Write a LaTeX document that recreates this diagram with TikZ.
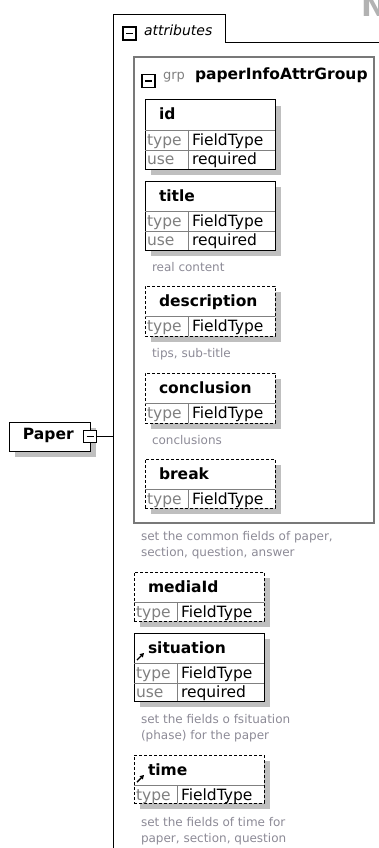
\documentclass[tikz,border=0pt]{standalone}
\usepackage{fontspec}
\setmainfont{DejaVu Sans}[ItalicFont={DejaVu Sans Oblique}, BoldFont={DejaVu Sans Bold}]
\usetikzlibrary{shadows,arrows.meta}

\definecolor{notegray}{RGB}{140,138,150}
\definecolor{keygray}{RGB}{128,128,128}
\definecolor{grpline}{RGB}{120,120,120}

\begin{document}
\begin{tikzpicture}[
    x=1pt, y=-1pt,
    every node/.style={inner sep=0pt, outer sep=0pt},
    elbox/.style={draw, line width=1pt, fill=white, anchor=north west,
                  minimum width=130pt,
                  drop shadow={shadow xshift=6pt, shadow yshift=-6pt,
                               fill=black!25, opacity=1}},
    opt/.style={dash pattern=on 3pt off 2pt},
    eltitle/.style={anchor=base west, font=\bfseries\fontsize{15.5}{18}\selectfont},
    key/.style={anchor=base west, text=keygray, font=\fontsize{15.5}{18}\selectfont},
    val/.style={anchor=base west, font=\fontsize{15.5}{18}\selectfont},
    sep/.style={draw=keygray, line width=0.8pt},
    note/.style={anchor=north west, align=left, text=notegray,
                 font=\fontsize{12}{16}\selectfont},
    minus/.style={draw, fill=white, line width=1.4pt,
                  minimum width=13pt, minimum height=13pt,
                  path picture={\draw[line width=1.2pt]
                    ([xshift=3pt]path picture bounding box.west) --
                    ([xshift=-3pt]path picture bounding box.east);}},
    refarrow/.style={-{Triangle[length=4pt,width=4.5pt]}, line width=1.4pt},
  ]
  \useasboundingbox (0,0) rectangle (379,848);

  \node[anchor=base west, text=black!30, font=\bfseries\fontsize{30}{30}\selectfont] (wm) at (361,17) {N};

  % attributes container
  \node[anchor=north west, minimum width=112pt, minimum height=28pt] (attr) at (113,15) {};
  \coordinate (attr-bot) at (113,870);
  \coordinate (attr-rgt) at (400,43);
  \draw[line width=1pt] (attr-bot) -- (attr.north west) -- (attr.north east)
    -- (attr.south east) -- (attr-rgt);
  \node[minus] (attr-m) at ([shift={(16.5,18.5)}]attr.north west) {};
  \node[anchor=base west, font=\itshape\fontsize{14}{17}\selectfont] (attr-t)
    at ([shift={(31,21)}]attr.north west) {attributes};

  % attribute group
  \node[draw=grpline, line width=1.2pt, anchor=north west,
        minimum width=240pt, minimum height=466pt] (grp) at (134,57) {};
  \node[minus] (grp-m) at ([shift={(14.5,24)}]grp.north west) {};
  \node[anchor=base west, text=keygray, font=\fontsize{13}{16}\selectfont] (grp-k)
    at ([shift={(29,23)}]grp.north west) {grp};
  \node[eltitle] (grp-t) at ([shift={(61,23)}]grp.north west) {paperInfoAttrGroup};

  % attributes
  \foreach \n/\t/\x/\y/\h/\s in {id/id/145/100/69/solid, title/title/145/181/69/solid,
      desc/description/145/286/50/opt, conc/conclusion/145/373/50/opt,
      brk/break/145/459/49/opt, media/mediaId/134/572/49/opt,
      sit/situation/134/633/68/solid, time/time/134/755/48/opt} {
    \node[elbox, \s, minimum height=\h pt] (\n) at (\x,\y) {};
    \node[eltitle] (\n-t) at ([shift={(14,20)}]\n.north west) {\t};
    \draw[sep] ([shift={(0,30)}]\n.north west) -- ([shift={(0,30)}]\n.north east);
    \draw[sep] ([shift={(43,30)}]\n.north west) -- ([shift={(43,0)}]\n.south west);
    \node[key] (\n-k) at ([shift={(2,45)}]\n.north west) {type};
    \node[val] (\n-v) at ([shift={(47,45)}]\n.north west) {FieldType};
  }
  \foreach \n in {id,title,sit} {
    \draw[sep] ([shift={(0,50)}]\n.north west) -- ([shift={(0,50)}]\n.north east);
    \node[key] (\n-uk) at ([shift={(2,64)}]\n.north west) {use};
    \node[val] (\n-uv) at ([shift={(47,64)}]\n.north west) {required};
  }
  \foreach \n in {sit,time}
    \draw[refarrow] ([shift={(3,27)}]\n.north west) -- ([shift={(10,20)}]\n.north west);

  % notes
  \node[note] (title-n) at ([shift={(7,12)}]title.south west) {real content};
  \node[note] (desc-n) at ([shift={(7,12)}]desc.south west) {tips, sub-title};
  \node[note] (conc-n) at ([shift={(7,12)}]conc.south west) {conclusions};
  \node[note] (grp-n) at ([shift={(7,8)}]grp.south west)
    {set the common fields of paper,\\section, question, answer};
  \node[note] (sit-n) at ([shift={(7,13)}]sit.south west)
    {set the fields o fsituation\\(phase) for the paper};
  \node[note] (time-n) at ([shift={(7,14)}]time.south west)
    {set the fields of time for\\paper, section, question};

  % root element
  \node[elbox, minimum width=81pt, minimum height=29pt] (paper) at (9,422) {};
  \node[eltitle] (paper-t) at ([shift={(14,17)}]paper.north west) {Paper};
  \node[minus, minimum height=12pt] (paper-m) at (paper.east) {};
  \draw[line width=1pt] (paper-m.east) -- (paper-m.east -| attr.west);
\end{tikzpicture}
\end{document}
